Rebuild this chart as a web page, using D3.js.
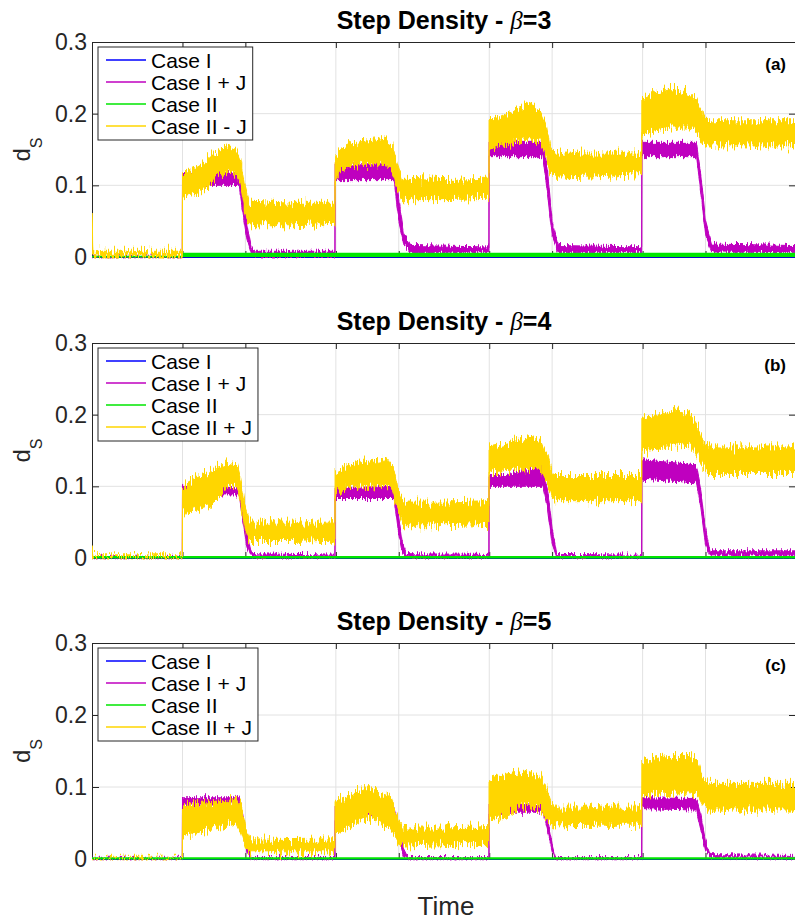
<!DOCTYPE html>
<html><head><meta charset="utf-8">
<script src="https://cdn.jsdelivr.net/npm/d3@7"></script>
<style>
body{margin:0;background:#fff;}
svg{display:block;font-family:"Liberation Sans",Arial,Helvetica,sans-serif;}
</style></head><body>
<svg id="chart" width="795" height="920"></svg>
<script>
// ---------------- DATA ----------------
const timeDomain = [0, 459];
const timeTicks = [59, 100, 159, 200, 259, 300, 359, 400];
const yTicks = [0, 0.1, 0.2, 0.3];
const yTickLabels = ["0", "0.1", "0.2", "0.3"];
const betas = [3, 4, 5];
const panelLabels = ["(a)", "(b)", "(c)"];
const legendLabelsA = ["Case I", "Case I + J", "Case II", "Case II - J"];
const legendLabelsBC = ["Case I", "Case I + J", "Case II", "Case II + J"];

// Case I : [time, value]
const caseI = [[0, 0], [459, 0]];

// noisy series as envelopes : [time, low, high]
const caseIJ_a = [[0,0,0.001],[58.9,0,0.001],[59,0.1,0.118],[96,0.1,0.118],[98.5,0.06,0.09],[101,0.025,0.045],[104,0.003,0.012],[107,0.001,0.008],[158.4,0.001,0.008],[158.5,0.108,0.13],[197,0.108,0.13],[200,0.05,0.08],[203,0.02,0.035],[208,0.005,0.016],[258.8,0.006,0.014],[258.9,0.14,0.16],[294,0.14,0.16],[297,0.09,0.12],[300,0.03,0.05],[304,0.006,0.016],[358.4,0.006,0.014],[358.5,0.14,0.16],[394,0.14,0.16],[397,0.09,0.115],[400,0.03,0.05],[404,0.007,0.018],[459,0.006,0.016]];
const caseII_a = [[0,0,0.001],[58.9,0,0.001],[59,0.0008,0.005],[459,0.0008,0.005]];
const caseIIJ_a = [[0,0,0.065],[0.6,0,0.008],[58.9,0,0.008],[59,0.085,0.115],[65,0.088,0.122],[75,0.095,0.135],[80,0.11,0.145],[88,0.118,0.155],[94,0.115,0.15],[97,0.1,0.135],[100,0.06,0.095],[102,0.045,0.078],[130,0.045,0.075],[158.4,0.047,0.075],[158.5,0.105,0.14],[162,0.12,0.15],[170,0.128,0.158],[185,0.13,0.162],[192,0.13,0.165],[196,0.12,0.155],[199,0.095,0.13],[202,0.08,0.11],[230,0.08,0.108],[258.8,0.082,0.11],[258.9,0.15,0.19],[265,0.155,0.195],[275,0.16,0.205],[285,0.165,0.213],[292,0.162,0.205],[296,0.14,0.185],[299,0.115,0.15],[302,0.11,0.145],[330,0.112,0.145],[358.4,0.115,0.145],[358.5,0.17,0.22],[365,0.175,0.228],[377,0.18,0.235],[388,0.18,0.232],[394,0.175,0.22],[398,0.16,0.2],[402,0.155,0.19],[459,0.155,0.19]];

const caseIJ_b = [[0,0,0.001],[58.9,0,0.001],[59,0.088,0.1],[96,0.088,0.098],[98.5,0.05,0.075],[101,0.015,0.035],[104,0.001,0.006],[158.4,0.001,0.004],[158.5,0.083,0.098],[197,0.083,0.1],[199.5,0.04,0.065],[202,0.01,0.025],[205,0.001,0.006],[258.8,0.001,0.005],[258.9,0.1,0.115],[270,0.1,0.115],[280,0.1,0.122],[294,0.1,0.125],[297,0.07,0.095],[300,0.02,0.04],[303,0.001,0.005],[358.4,0.001,0.004],[358.5,0.11,0.137],[394,0.105,0.13],[397,0.07,0.095],[400,0.02,0.04],[403,0.003,0.01],[459,0.003,0.01]];
const caseII_b = [[0,0,0.002],[459,0,0.002]];
const caseIIJ_b = [[0,0,0.016],[0.6,0,0.003],[58.9,0,0.003],[59,0.063,0.1],[62,0.063,0.105],[70,0.068,0.115],[77,0.072,0.122],[83.5,0.085,0.128],[88.7,0.1,0.132],[94.5,0.1,0.13],[97,0.075,0.11],[100,0.04,0.07],[103,0.023,0.05],[130,0.023,0.05],[158.4,0.025,0.05],[158.5,0.085,0.12],[165,0.098,0.128],[180,0.1,0.135],[192,0.102,0.14],[196,0.095,0.13],[199,0.07,0.1],[203,0.045,0.078],[230,0.045,0.078],[258.8,0.047,0.08],[258.9,0.12,0.155],[270,0.122,0.16],[285,0.125,0.168],[293,0.122,0.162],[297,0.105,0.14],[300,0.085,0.118],[303,0.08,0.115],[330,0.08,0.115],[358.4,0.08,0.115],[358.5,0.15,0.195],[370,0.152,0.2],[380,0.158,0.208],[390,0.155,0.2],[395,0.145,0.185],[398,0.13,0.165],[402,0.118,0.155],[459,0.118,0.155]];

const caseIJ_c = [[0,0,0.001],[58.9,0,0.001],[59,0.075,0.085],[96,0.075,0.085],[98.5,0.045,0.06],[101,0.01,0.025],[104,0,0.002],[158.4,0,0.002],[158.5,0.055,0.075],[170,0.06,0.075],[180,0.065,0.075],[197,0.06,0.07],[200,0.03,0.045],[203,0.005,0.015],[206,0,0.002],[258.8,0,0.002],[258.9,0.064,0.075],[275,0.065,0.078],[294,0.065,0.075],[297,0.04,0.055],[300,0.01,0.02],[302,0,0.002],[358.4,0,0.002],[358.5,0.07,0.085],[394,0.068,0.084],[397,0.04,0.06],[400,0.012,0.025],[403,0.002,0.006],[459,0.001,0.005]];
const caseII_c = [[0,0,0.0015],[459,0,0.0015]];
const caseIIJ_c = [[0,0,0.001],[58.9,0,0.001],[59,0.03,0.075],[62,0.033,0.076],[75,0.04,0.078],[88,0.047,0.08],[94,0.05,0.086],[97,0.035,0.075],[100,0.015,0.045],[103,0.01,0.028],[130,0.01,0.027],[158.4,0.01,0.028],[158.5,0.035,0.08],[165,0.04,0.085],[172,0.05,0.092],[180,0.058,0.1],[188,0.05,0.09],[195,0.04,0.085],[198,0.03,0.065],[201,0.02,0.048],[203,0.018,0.043],[230,0.02,0.043],[258.8,0.02,0.045],[258.9,0.055,0.11],[270,0.058,0.118],[282,0.075,0.122],[292,0.072,0.115],[296,0.055,0.1],[299,0.05,0.08],[302,0.046,0.072],[330,0.047,0.072],[358.4,0.047,0.072],[358.5,0.088,0.135],[370,0.09,0.142],[380,0.09,0.145],[390,0.092,0.145],[395,0.088,0.135],[398,0.075,0.115],[402,0.068,0.105],[459,0.068,0.105]];

// ---------------- LAYOUT / STYLE ----------------
const plotLeft = 92, plotRight = 796;
const panelTops = [42, 343, 643], panelBottoms = [257, 558, 859];
const colors = ["#0000ff", "#bf00bf", "#00e600", "#ffd600"];
const axisColor = "#262626", gridColor = "#e2e2e2";

const panels = [
  {beta: betas[0], label: panelLabels[0], legend: legendLabelsA, caseIJ: caseIJ_a, caseII: caseII_a, caseIIJ: caseIIJ_a},
  {beta: betas[1], label: panelLabels[1], legend: legendLabelsBC, caseIJ: caseIJ_b, caseII: caseII_b, caseIIJ: caseIIJ_b},
  {beta: betas[2], label: panelLabels[2], legend: legendLabelsBC, caseIJ: caseIJ_c, caseII: caseII_c, caseIIJ: caseIIJ_c}
];

const svg = d3.select("#chart");
svg.append("rect").attr("width", 795).attr("height", 920).attr("fill", "#fff");
const defs = svg.append("defs");

function makeJag(id, seed, scale, fx, fy) {
  const f = defs.append("filter").attr("id", id)
    .attr("x", "-0.01").attr("y", "-0.4").attr("width", "1.02").attr("height", "1.8");
  f.append("feTurbulence").attr("type", "fractalNoise")
    .attr("baseFrequency", fx + " " + fy).attr("numOctaves", 2).attr("seed", seed).attr("result", "n");
  f.append("feColorMatrix").attr("in", "n").attr("type", "matrix")
    .attr("values", "0 0 0 0 0.5  1 0 0 0 0  0 0 0 0 0  0 0 0 0 1").attr("result", "m");
  f.append("feDisplacementMap").attr("in", "SourceGraphic").attr("in2", "m")
    .attr("scale", scale).attr("xChannelSelector", "R").attr("yChannelSelector", "G");
}
makeJag("jagY", 7, 22, 0.7, 0.06);
makeJag("jagM", 3, 10, 0.8, 0.08);

const x = d3.scaleLinear().domain(timeDomain).range([plotLeft, plotRight]);

panels.forEach((p, i) => {
  const top = panelTops[i], bottom = panelBottoms[i];
  const y = d3.scaleLinear().domain([0, 0.3]).range([bottom, top]);
  const g = svg.append("g");

  // grid
  g.append("g").selectAll("line").data(timeTicks).join("line")
    .attr("x1", d => x(d)).attr("x2", d => x(d)).attr("y1", top).attr("y2", bottom)
    .attr("stroke", gridColor).attr("stroke-width", 1);
  g.append("g").selectAll("line").data(yTicks.slice(1, 3)).join("line")
    .attr("x1", plotLeft).attr("x2", plotRight).attr("y1", d => y(d)).attr("y2", d => y(d))
    .attr("stroke", gridColor).attr("stroke-width", 1);

  // axes
  const axL = d3.axisLeft(y).tickValues(yTicks).tickSizeInner(-7).tickSizeOuter(0).tickPadding(5)
    .tickFormat((d, k) => yTickLabels[k]);
  const axR = d3.axisRight(y).tickValues(yTicks).tickSizeInner(-7).tickSizeOuter(0).tickFormat("");
  const axT = d3.axisTop(x).tickValues(timeTicks).tickSizeInner(-6).tickSizeOuter(0).tickFormat("");
  const axB = d3.axisBottom(x).tickValues(timeTicks).tickSizeInner(-6).tickSizeOuter(0).tickFormat("");
  const gl = g.append("g").attr("transform", `translate(${plotLeft},0)`).call(axL);
  const gr = g.append("g").attr("transform", `translate(${plotRight},0)`).call(axR);
  const gt = g.append("g").attr("transform", `translate(0,${top})`).call(axT);
  const gb = g.append("g").attr("transform", `translate(0,${bottom})`).call(axB);
  [gl, gr, gt, gb].forEach(a => {
    a.selectAll("path,line").attr("stroke", axisColor).attr("stroke-width", 1);
    a.selectAll("text").attr("fill", axisColor).attr("font-size", 23)
      .attr("font-family", '"Liberation Sans",Arial,sans-serif');
  });

  // data
  defs.append("clipPath").attr("id", "clip" + i).append("rect")
    .attr("x", plotLeft).attr("y", top).attr("width", plotRight - plotLeft).attr("height", bottom - top + 1.5);
  const dg = g.append("g").attr("clip-path", `url(#clip${i})`);
  const line = d3.line().x(d => x(d[0])).y(d => y(d[1]));
  const area = d3.area().x(d => x(d[0])).y0(d => y(d[1])).y1(d => y(d[2]));

  dg.append("path").datum(caseI).attr("d", line).attr("fill", "none")
    .attr("stroke", colors[0]).attr("stroke-width", 1.6);
  dg.append("g").attr("filter", "url(#jagM)").append("path").datum(p.caseIJ).attr("d", area)
    .attr("fill", colors[1]).attr("stroke", colors[1]).attr("stroke-width", 1);
  dg.append("path").datum(p.caseII).attr("d", area)
    .attr("fill", colors[2]).attr("stroke", colors[2]).attr("stroke-width", 1.2);
  dg.append("g").attr("filter", "url(#jagY)").append("path").datum(p.caseIIJ).attr("d", area)
    .attr("fill", colors[3]).attr("stroke", colors[3]).attr("stroke-width", 1);

  // title
  const tt = g.append("text").attr("x", (plotLeft + plotRight) / 2).attr("y", top - 13)
    .attr("text-anchor", "middle").attr("font-size", 25).attr("fill", "#000")
    .style("white-space", "pre");
  tt.append("tspan").attr("font-weight", "bold").text("Step Density - ");
  tt.append("tspan").attr("font-style", "italic").attr("font-family", '"Liberation Serif",serif').text("β");
  tt.append("tspan").attr("font-weight", "bold").text("=" + p.beta);

  // panel label
  g.append("text").attr("x", 786).attr("y", top + 28).attr("text-anchor", "end")
    .attr("font-size", 17).attr("font-weight", "bold").attr("fill", "#000").text(p.label);

  // y label
  const yl = g.append("text").attr("transform", `translate(30,${(top + bottom) / 2}) rotate(-90)`)
    .attr("text-anchor", "middle").attr("fill", axisColor).attr("font-size", 24);
  yl.append("tspan").text("d");
  yl.append("tspan").attr("font-size", 16).attr("dy", 12).text("S");

  // legend
  const lg = g.append("g");
  const lx = plotLeft + 6, ly = top + 5;
  const textX = lx + 53;
  const rowY = k => ly + 13 + k * 22;
  const texts = lg.selectAll("text").data(p.legend).join("text")
    .attr("x", textX).attr("y", (d, k) => rowY(k) + 7.5)
    .attr("font-size", 21).attr("fill", "#000").text(d => d);
  let maxW = 0;
  texts.each(function () { maxW = Math.max(maxW, this.getComputedTextLength()); });
  lg.insert("rect", "text").attr("x", lx).attr("y", ly).attr("width", textX - lx + maxW + 6).attr("height", 93)
    .attr("fill", "#fff").attr("stroke", axisColor).attr("stroke-width", 1);
  lg.selectAll("line.lg").data(p.legend).join("line").attr("class", "lg")
    .attr("x1", lx + 8).attr("x2", lx + 48).attr("y1", (d, k) => rowY(k)).attr("y2", (d, k) => rowY(k))
    .attr("stroke", (d, k) => colors[k]).attr("stroke-width", 1.6);
});

svg.append("text").attr("x", 446).attr("y", 915).attr("text-anchor", "middle")
  .attr("font-size", 26).attr("fill", axisColor).text("Time");
</script>
</body></html>
